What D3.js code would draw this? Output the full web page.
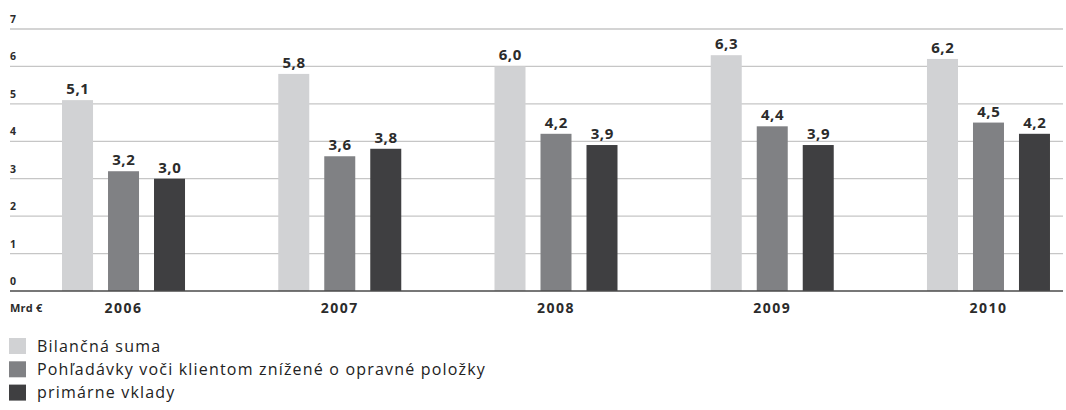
<!DOCTYPE html>
<html><head><meta charset="utf-8">
<script src="https://cdn.jsdelivr.net/npm/d3@7"></script>
<style>
body{margin:0;background:#fff;}
svg{display:block;font-family:"Open Sans",sans-serif;}
</style></head>
<body><svg id="c" width="1066" height="410"></svg>
<script>
const years = ["2006","2007","2008","2009","2010"];
const seriesNames = ["Bilančná suma","Pohľadávky voči klientom znížené o opravné položky","primárne vklady"];
const bilancna = [5.1,5.8,6.0,6.3,6.2];
const pohladavky = [3.2,3.6,4.2,4.4,4.5];
const vklady = [3.0,3.8,3.9,3.9,4.2];
const yTicks = [0,1,2,3,4,5,6,7];
const unitLabel = "Mrd €";
const colors = ["#d1d2d4","#808184","#3f3f41"];

const series = [bilancna,pohladavky,vklady];
const svg = d3.select("#c");
const y = d3.scaleLinear().domain([0,7]).range([291,29]);
const x0 = d3.scaleBand().domain(years).range([15.4,1096.6]);
const x1 = d3.scaleBand().domain([0,1,2]).range([0,123]).paddingInner(0.326).paddingOuter(0);
const groupX = yr => x0(yr) + x0.bandwidth()/2 - 61.5;

// gridlines
svg.append("g").selectAll("line").data(yTicks.filter(t=>t>0)).join("line")
  .attr("x1",10).attr("x2",1063).attr("y1",d=>y(d)).attr("y2",d=>y(d))
  .attr("stroke","#c6c6c6").attr("stroke-width",1.3);
// tick labels
svg.append("g").selectAll("text").data(yTicks).join("text")
  .attr("x",10).attr("y",d=>y(d)-6).text(d=>d)
  .attr("font-size",10.5).attr("font-weight",700).attr("fill","#2b2b2b");

// bars
const g = svg.append("g");
years.forEach((yr,i)=>{
  series.forEach((s,k)=>{
    g.append("rect").attr("x",groupX(yr)+x1(k)).attr("width",x1.bandwidth())
      .attr("y",y(s[i])).attr("height",y(0)-y(s[i])).attr("fill",colors[k]);
    g.append("text").attr("x",groupX(yr)+x1(k)+x1.bandwidth()/2+0.3).attr("y",y(s[i])-6)
      .attr("text-anchor","middle").attr("font-size",15).attr("font-weight",700)
      .attr("letter-spacing",0.6).attr("fill","#2b2b2b")
      .text(s[i].toFixed(1).replace(".",","));
  });
});

// baseline
svg.append("line").attr("x1",10).attr("x2",1063).attr("y1",y(0)).attr("y2",y(0))
  .attr("stroke","#4a4a4a").attr("stroke-width",1.5);

// x labels
svg.append("g").selectAll("text").data(years).join("text")
  .attr("x",d=>groupX(d)+61.5).attr("y",313).attr("text-anchor","middle")
  .attr("font-size",14).attr("font-weight",700).attr("letter-spacing",1.5).attr("fill","#2b2b2b")
  .text(d=>d);
svg.append("text").attr("x",10).attr("y",312).attr("font-size",11).attr("font-weight",700)
  .attr("letter-spacing",0.2).attr("fill","#2b2b2b").text(unitLabel);

// legend
const lg = svg.append("g");
const texts = [];
seriesNames.forEach((n,k)=>{
  const cy = 346 + k*23.3;
  lg.append("rect").attr("x",9).attr("y",cy-8).attr("width",17).attr("height",16).attr("fill",colors[k]);
  texts.push(lg.append("text").attr("x",37).attr("y",cy+5.5).attr("font-size",16).attr("fill","#222").text(n));
});
// widen spacing to match the reference's wider typeface
const longest = texts[1];
const w = longest.node().getComputedTextLength();
const ls = Math.max(0,(449 - w)/seriesNames[1].length);
texts.forEach(t=>t.attr("letter-spacing",ls));
</script></body></html>
